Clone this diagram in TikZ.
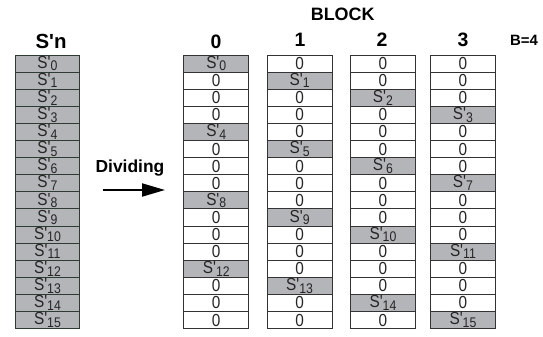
\documentclass[tikz,border=0pt]{standalone}
\usepackage{fontspec}
\setmainfont{Liberation Sans}[Ligatures=TeXOff]
\newfontfamily\cellfont{Liberation Sans}[FakeStretch=0.88,Ligatures=TeXOff]
\usetikzlibrary{arrows.meta}
\definecolor{cellgray}{HTML}{B4B5B8}
\definecolor{linecol}{HTML}{333333}
\definecolor{sncol}{HTML}{2E3B33}
\newcommand{\Sp}[1]{S'\raisebox{-2.6bp}{\fontsize{14}{14}\selectfont #1}}
\begin{document}
\begin{tikzpicture}[x=1bp,y=-1bp,
  cell/.style={draw=linecol, line width=0.9bp, minimum width=65bp, minimum height=17.1bp,
    inner sep=0pt, anchor=north west, fill=white, text=black!85,
    font=\cellfont\fontsize{17.5}{17.5}\selectfont},
  hl/.style={fill=cellgray},
  sncell/.style={cell, hl, draw=sncol, minimum width=64bp},
  hdr/.style={anchor=base, inner sep=0pt, font=\bfseries\fontsize{19.5}{19.5}\selectfont},
  smallhdr/.style={anchor=base, inner sep=0pt, font=\bfseries\fontsize{15}{15}\selectfont},
  arrowline/.style={line width=2bp, -{Triangle[length=23bp,width=13bp]}}]
\useasboundingbox (0,0) rectangle (543,336);

% S'n column
\foreach \i in {0,...,15} {
  \node[sncell] (s\i) at (15, 54.5+\i*17.1) {\Sp{\i}};
}
\node[hdr, font=\bfseries\fontsize{20.5}{20.5}\selectfont] (snlabel) at (51,48.3) {S'n};

% Blocks
\foreach \b/\xl in {0/183.3,1/266.7,2/350,3/430} {
  \foreach \i in {0,...,15} {
    \pgfmathtruncatemacro\r{mod(\i,4)}
    \ifnum\r=\b
      \node[cell,hl] (b\b-\i) at (\xl, 54.5+\i*17.1) {\Sp{\i}};
    \else
      \node[cell] (b\b-\i) at (\xl, 54.5+\i*17.1) {0};
    \fi
  }
}
\node[hdr] (h0) at (216,48) {0};
\node[hdr] (h1) at (300,46.7) {1};
\node[hdr] (h2) at (382,46) {2};
\node[hdr] (h3) at (463,46.7) {3};
\node[smallhdr] (bval) at (524,45) {B=4};
\node[hdr, font=\bfseries\fontsize{18}{18}\selectfont] (blk) at (342.7,20.7) {BLOCK};

% Dividing arrow
\node[hdr, font=\bfseries\fontsize{17.5}{17.5}\selectfont] (div) at (130,172.3) {Dividing};
\coordinate (arrS) at (103,190);
\coordinate (arrE) at (165,190);
\draw[arrowline] (arrS) -- (arrE);
\end{tikzpicture}
\end{document}
